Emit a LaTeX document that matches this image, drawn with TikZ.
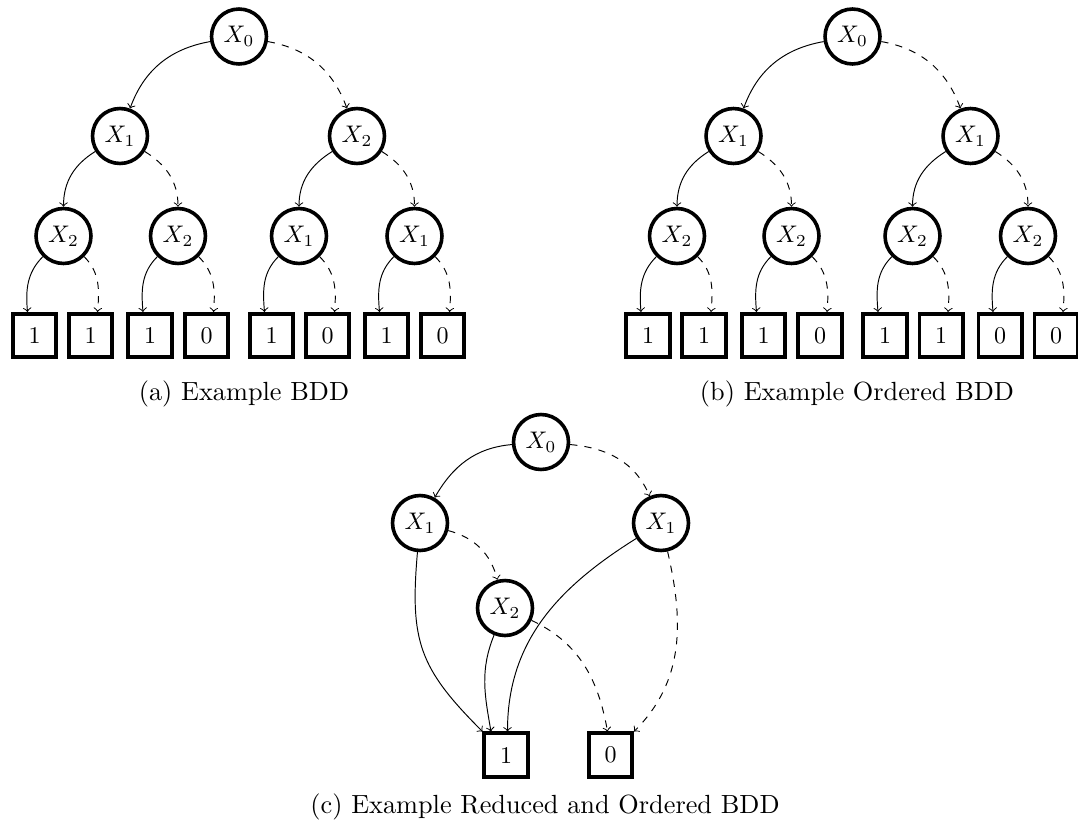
\documentclass[tikz,border=0pt]{standalone}
\usetikzlibrary{arrows}
\tikzset{
  var/.style={circle,draw,line width=1.5pt,minimum size=22.9pt,inner sep=0pt},
  leaf/.style={rectangle,draw,line width=1.5pt,minimum size=18.1pt,inner sep=0pt},
  hi/.style={->},
  lo/.style={->,dashed},
  capt/.style={font=\fontsize{10.95}{13.6}\selectfont,anchor=base},
}
\newcommand{\fulltree}[6]{%
  \begin{scope}[shift={(#2,0)}]
    \node[var] (#1r) at (239,-36.5) {$X_0$};
    \node[var] (#1a) at (120,-136) {$X_1$};
    \node[var] (#1b) at (357,-136) {#3};
    \node[var] (#1aa) at (63.5,-236) {#4};
    \node[var] (#1ab) at (178,-236) {#4};
    \node[var] (#1ba) at (299,-236) {#5};
    \node[var] (#1bb) at (414.5,-236) {#5};
    \foreach \lx/\lv [count=\i] in {#6}
      \node[leaf] (#1l\i) at (\lx,-335.5) {\lv};
  \end{scope}
  \draw[hi] (#1r) to[out=190,in=70] (#1a);
  \draw[lo] (#1r) to[out=350,in=110] (#1b);
  \foreach \p in {a,b}{
    \draw[hi] (#1\p) to[out=212,in=90] (#1\p a);
    \draw[lo] (#1\p) to[out=328,in=90] (#1\p b);
  }
  \foreach \n/\i/\j in {aa/1/2,ab/3/4,ba/5/6,bb/7/8}{
    \draw[hi] (#1\n) to[out=225,in=95] ([shift={(-7,0)}]#1l\i.north);
    \draw[lo] (#1\n) to[out=315,in=85] ([shift={(7,0)}]#1l\j.north);
  }
}
\begin{document}
\begin{tikzpicture}[x=0.41667pt,y=0.41667pt]
  \useasboundingbox (0,0) rectangle (1078,-825);
  % (a)
  \fulltree{A}{0}{$X_2$}{$X_2$}{$X_1$}{34.5/1,90.5/1,150/1,206.5/0,271.5/1,327.5/0,386.5/1,442.5/0}
  % (b)
  \fulltree{B}{613.5}{$X_1$}{$X_2$}{$X_2$}{34.5/1,90.5/1,150/1,206.5/0,271.5/1,327.5/1,386.5/0,442.5/0}
  % (c)
  \node[var] (c0) at (541,-442) {$X_0$};
  \node[var] (c1l) at (420,-523) {$X_1$};
  \node[var] (c1r) at (661,-523) {$X_1$};
  \node[var] (c2) at (505,-608) {$X_2$};
  \node[leaf] (cb1) at (506,-755) {1};
  \node[leaf] (cb0) at (610.5,-755) {0};
  \draw[hi] (c0) to[out=185,in=60] (c1l);
  \draw[lo] (c0) to[out=355,in=113] (c1r);
  \draw[lo] (c1l) to[out=345,in=105] (c2);
  \draw[hi] (c1l) to[out=265,in=135,looseness=1.2] (cb1);
  \draw[hi] (c2) to[out=248,in=100] ([shift={(-15,0)}]cb1.north);
  \draw[hi] (c1r) to[out=212,in=90] ([shift={(1.5,0)}]cb1.north);
  \draw[lo] (c2) to[out=335,in=100] ([shift={(-3,0)}]cb0.north);
  \draw[lo] (c1r) to[out=283,in=45] (cb0);
  % captions
  \node[capt] (capa) at (244,-400) {(a) Example BDD};
  \node[capt] (capb) at (857,-400) {(b) Example Ordered BDD};
  \node[capt] (capc) at (545,-813) {(c) Example Reduced and Ordered BDD};
\end{tikzpicture}
\end{document}
